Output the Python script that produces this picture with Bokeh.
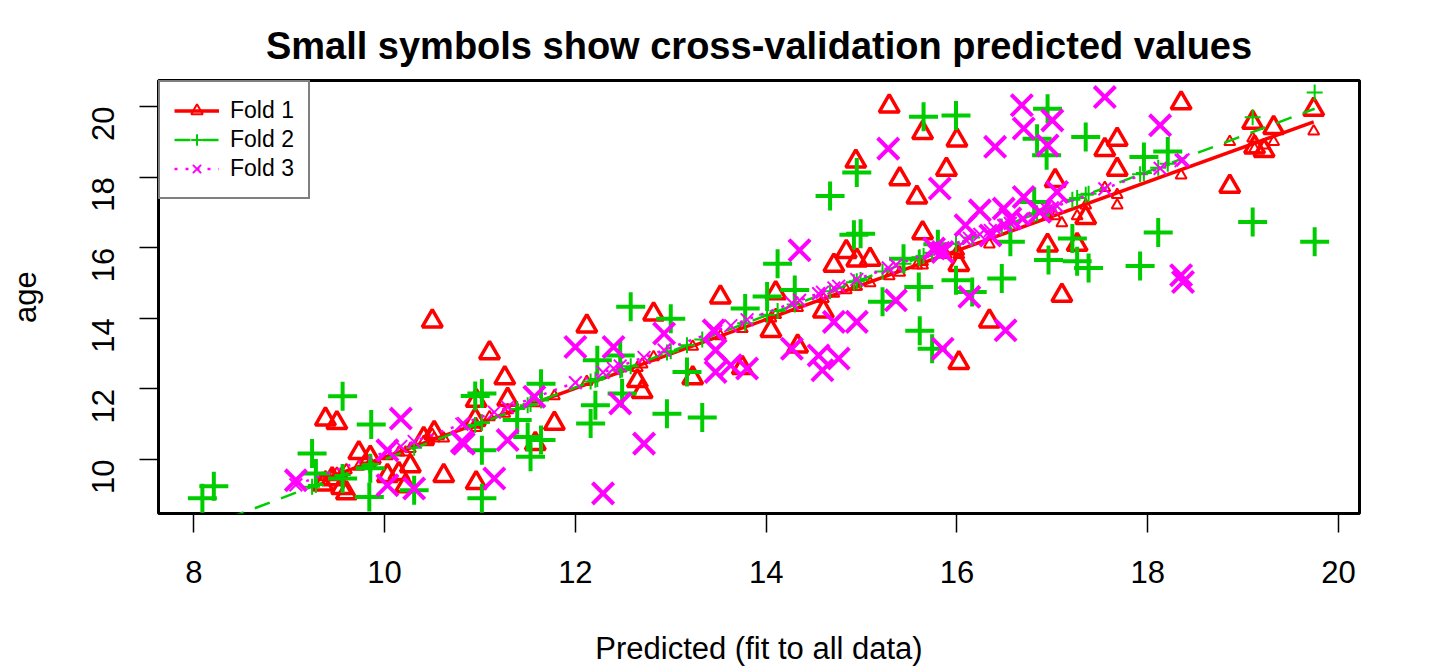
from bokeh.plotting import figure
from bokeh.models import Range1d, FixedTicker, Legend, LegendItem
from bokeh.embed import file_html
from bokeh.resources import INLINE
import math

FONT = "Liberation Sans"
RED, GREEN, MAGENTA = "#FF0000", "#00CD00", "#FF00FF"

# ---- Fold 1 (red triangles) : predicted (all data), observed age, CV predicted
f1_x = [15.29, 15.64, 16.00, 14.94, 15.89, 15.40, 15.58, 17.03, 15.64, 14.84, 14.71, 14.95, 15.09,
        16.02, 16.95, 14.10, 18.35, 19.10, 19.32, 19.74, 19.12, 19.22, 17.68, 17.55, 17.68, 18.86,
        17.35, 17.26, 17.10, 9.38, 9.50, 10.50, 9.73, 9.85, 9.45, 9.55, 9.60, 10.41, 10.52, 10.27,
        10.22, 10.62, 10.03, 11.10, 11.26, 10.96, 11.29, 10.95, 11.78, 11.58, 10.96, 12.12, 12.82,
        13.52, 12.65, 12.70, 13.23, 13.75, 14.05, 14.33, 16.34, 16.02, 14.60, 10.15, 9.35]
f1_y = [20.01, 19.26, 19.05, 18.45, 18.22, 17.95, 17.43, 17.90, 16.42, 15.89, 15.50, 15.65, 15.67,
        15.52, 16.07, 14.72, 20.10, 19.55, 19.40, 19.92, 18.85, 18.75, 19.07, 18.78, 18.22, 17.74,
        16.85, 16.09, 14.65, 11.14, 11.04, 13.92, 10.19, 10.06, 9.45, 9.20, 9.05, 10.59, 10.76, 9.82,
        9.25, 9.54, 9.54, 13.02, 12.31, 11.67, 11.70, 11.13, 11.02, 10.45, 9.34, 13.78, 14.12,
        14.60, 12.23, 11.92, 12.31, 12.60, 13.65, 13.21, 13.92, 12.74, 14.20, 9.60, 9.30]
f1_cv = [15.2, 15.6, 15.9, 14.9, 15.8, 15.3, 15.5, 16.9, 15.5, 14.8, 14.7, 14.9, 15.0,
         15.9, 16.9, 14.1, 18.05, 19.1, 19.0, 19.3, 18.8, 18.9, 17.5, 17.7, 17.2, 19.0,
         17.2, 16.9, 16.7, 9.5, 9.6, 10.7, 9.8, 9.9, 9.5, 9.6, 9.7, 10.5, 10.6, 10.3,
         10.2, 10.6, 10.1, 11.2, 11.3, 11.0, 11.4, 11.0, 11.8, 11.6, 10.9, 12.2, 12.9,
         13.5, 12.6, 12.7, 13.2, 13.7, 14.0, 14.3, 16.1, 15.8, 14.55, 10.2, 9.4]
f1_line_x = [9.35, 19.74]
f1_line_y = [9.43, 19.57]

# ---- Fold 2 (green plus)
f2_x = [15.65, 15.99, 16.95, 16.84, 16.94, 14.95, 14.67, 14.92, 14.99, 14.12, 14.30, 15.44, 15.60,
        15.99, 16.16, 16.47, 16.56, 16.81, 16.96, 14.01, 17.35, 17.96, 18.21, 19.10, 19.75, 18.11,
        17.92, 17.38, 17.26, 17.21, 8.09, 8.21, 9.56, 9.86, 9.24, 9.28, 9.84, 10.31, 9.56, 9.85,
        10.95, 12.58, 13.00, 13.78, 11.02, 11.02, 11.02, 11.53, 11.64, 12.16, 12.23, 12.21, 12.47,
        12.49, 12.96, 13.33, 13.17, 11.39, 11.50, 11.64, 15.61, 15.74, 15.22, 15.80]
f2_y = [19.71, 19.75, 19.94, 19.09, 18.62, 18.13, 17.47, 16.37, 16.40, 15.55, 14.80, 15.69, 14.89,
        15.08, 14.75, 15.13, 16.17, 17.30, 15.65, 14.62, 19.14, 18.57, 18.73, 16.73, 16.17, 16.43,
        15.48, 15.43, 15.62, 16.26, 8.90, 9.24, 11.79, 10.99, 10.17, 9.60, 8.94, 9.13, 9.46, 9.75,
        11.80, 14.33, 13.99, 14.28, 11.87, 10.26, 8.90, 10.08, 12.15, 11.02, 12.81, 11.54, 12.95,
        11.87, 11.30, 11.19, 12.48, 11.12, 10.64, 10.55, 13.65, 13.14, 14.47, 16.10]
f2_cv = [15.77, 16.11, 17.09, 16.98, 17.08, 15.05, 14.77, 15.02, 15.09, 14.21, 14.39, 15.55, 15.72,
         16.11, 16.29, 16.60, 16.69, 16.95, 17.10, 14.10, 17.50, 18.12, 18.38, 19.70, 20.40, 18.27,
         18.08, 17.53, 17.41, 17.36, 8.06, 8.19, 9.56, 9.87, 9.23, 9.28, 9.85, 10.33, 9.56, 9.86,
         10.98, 12.64, 13.07, 13.86, 11.05, 11.05, 11.05, 11.57, 11.68, 12.21, 12.28, 12.26, 12.53,
         12.55, 13.03, 13.40, 13.24, 11.43, 11.54, 11.68, 15.73, 15.86, 15.33, 15.92]
f2_line_x = [8.09, 19.75]
f2_line_y = [8.06, 19.94]

# ---- Fold 3 (magenta x)
f3_x = [17.55, 18.13, 18.35, 18.37, 17.00, 16.68, 16.70, 16.95, 16.40, 15.28, 15.82, 14.35, 9.07,
        10.17, 10.03, 10.03, 10.31, 10.83, 12.00, 12.72, 12.29, 11.15, 10.81, 11.29, 12.47, 12.40,
        12.93, 13.45, 13.47, 13.47, 13.63, 13.80, 11.57, 16.51, 15.85, 14.27, 14.55, 14.59, 14.76,
        14.95, 14.71, 15.36, 16.13, 16.24, 16.49, 16.70, 16.09, 16.35, 16.56, 16.87, 17.05, 15.76,
        15.85]
f3_y = [20.27, 19.47, 15.22, 15.03, 19.61, 20.04, 19.38, 18.90, 18.86, 18.81, 17.68, 15.93, 9.41,
        11.16, 10.26, 9.27, 9.18, 10.45, 13.19, 10.45, 9.04, 9.46, 10.50, 10.55, 11.59, 13.19,
        13.57, 13.66, 13.10, 12.48, 12.67, 12.58, 11.78, 13.66, 13.14, 13.14, 12.95, 12.53, 12.86,
        13.90, 13.90, 14.51, 14.61, 17.06, 17.11, 17.44, 16.64, 16.35, 16.83, 17.02, 17.58, 15.98,
        15.88]
f3_cv = [17.67, 18.25, 18.47, 18.49, 17.13, 16.81, 16.83, 17.08, 16.54, 15.43, 15.96, 14.51, 9.28,
         10.37, 10.23, 10.23, 10.51, 11.02, 12.18, 12.89, 12.47, 11.34, 11.00, 11.48, 12.65, 12.58,
         13.10, 13.62, 13.64, 13.64, 13.79, 13.96, 11.75, 16.64, 15.99, 14.43, 14.70, 14.74, 14.91,
         15.10, 14.86, 15.51, 16.27, 16.38, 16.63, 16.83, 16.23, 16.49, 16.69, 17.00, 17.18, 15.90,
         15.99]
f3_line_x = [9.07, 18.37]
f3_line_y = [9.28, 18.49]

x_ticks = [8, 10, 12, 14, 16, 18, 20]
y_ticks = [10, 12, 14, 16, 18, 20]

p = figure(width=1440, height=672, output_backend="svg", toolbar_location=None,
           x_range=Range1d(7.63, 20.22), y_range=Range1d(8.47, 20.74),
           min_border_left=158, min_border_right=81, min_border_top=80, min_border_bottom=159,
           title="Small symbols show cross-validation predicted values")
p.background_fill_color = "white"
p.border_fill_color = "white"
p.grid.visible = False
p.outline_line_color = "black"
p.outline_line_width = 3
p.outline_line_alpha = 1

p.title.align = "center"
p.title.text_font = FONT
p.title.text_font_size = "38px"
p.title.text_font_style = "bold"
p.title.text_color = "black"
p.title.standoff = 28

for ax in (p.xaxis[0], p.yaxis[0]):
    ax.axis_line_color = None
    ax.major_tick_out = 19
    ax.major_tick_in = 0
    ax.major_tick_line_width = 1.5
    ax.major_tick_line_color = "black"
    ax.minor_tick_line_color = None
    ax.major_label_text_font = FONT
    ax.major_label_text_font_size = "31px"
    ax.major_label_text_color = "black"
    ax.axis_label_text_font = FONT
    ax.axis_label_text_font_size = "31px"
    ax.axis_label_text_font_style = "normal"
    ax.axis_label_text_color = "black"

p.xaxis[0].ticker = FixedTicker(ticks=x_ticks)
p.yaxis[0].ticker = FixedTicker(ticks=y_ticks)
p.xaxis[0].axis_label = "Predicted (fit to all data)"
p.yaxis[0].axis_label = "age"
p.xaxis[0].major_label_standoff = 28
p.xaxis[0].axis_label_standoff = 45
p.yaxis[0].major_label_orientation = math.pi / 2
p.yaxis[0].major_label_standoff = 36
p.yaxis[0].axis_label_standoff = 36

# Fold 1
p.scatter(f1_x, f1_y, marker="triangle", size=20, line_color=RED, fill_color=None, line_width=3.5)
s1 = p.scatter(f1_x, f1_cv, marker="triangle", size=11, line_color=RED, fill_color=None, line_width=2)
l1 = p.line(f1_line_x, f1_line_y, line_color=RED, line_width=3.5)
# Fold 2
p.scatter(f2_x, f2_y, marker="cross", size=29, line_color=GREEN, line_width=4)
s2 = p.scatter(f2_x, f2_cv, marker="cross", size=16, line_color=GREEN, line_width=2)
l2 = p.line(f2_line_x, f2_line_y, line_color=GREEN, line_width=2.5, line_dash="16 12")
# Fold 3
p.scatter(f3_x, f3_y, marker="x", size=30, line_color=MAGENTA, line_width=4)
s3 = p.scatter(f3_x, f3_cv, marker="x", size=18, line_color=MAGENTA, line_width=2)
l3 = p.line(f3_line_x, f3_line_y, line_color=MAGENTA, line_width=2.5, line_dash="3 8")

legend = Legend(items=[
    LegendItem(label="Fold 1", renderers=[l1, s1]),
    LegendItem(label="Fold 2", renderers=[l2, s2]),
    LegendItem(label="Fold 3", renderers=[l3, s3]),
], location="top_left")
legend.margin = 0
legend.padding = 14
legend.spacing = 0
legend.glyph_width = 45
legend.glyph_height = 29
legend.label_height = 29
legend.label_standoff = 11
legend.label_text_font = FONT
legend.label_text_font_size = "23px"
legend.label_text_color = "black"
legend.border_line_color = "black"
legend.border_line_width = 2
legend.background_fill_color = "white"
legend.background_fill_alpha = 1
p.add_layout(legend)

open("out.html", "w").write(file_html(p, INLINE))
